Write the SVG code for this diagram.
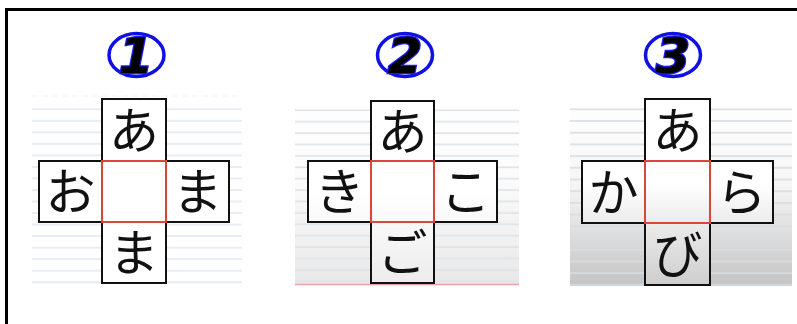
<svg xmlns="http://www.w3.org/2000/svg" width="797" height="324" viewBox="0 0 797 324">
<defs>
<linearGradient id="g2" x1="0" y1="100" x2="0" y2="284" gradientUnits="userSpaceOnUse">
<stop offset="0" stop-color="#ffffff"/><stop offset="0.45" stop-color="#fbfbfb"/><stop offset="1" stop-color="#e8e8e8"/>
</linearGradient>
<linearGradient id="g3" x1="0" y1="100" x2="0" y2="286" gradientUnits="userSpaceOnUse">
<stop offset="0" stop-color="#ffffff"/><stop offset="0.45" stop-color="#f6f6f6"/><stop offset="1" stop-color="#c4c4c4"/>
</linearGradient>
<linearGradient id="b2" x1="0" y1="99" x2="0" y2="284" gradientUnits="userSpaceOnUse">
<stop offset="0" stop-color="#ffffff"/><stop offset="0.5" stop-color="#ffffff"/><stop offset="1" stop-color="#ececec"/>
</linearGradient>
<linearGradient id="b3" x1="0" y1="99" x2="0" y2="286" gradientUnits="userSpaceOnUse">
<stop offset="0" stop-color="#ffffff"/><stop offset="0.45" stop-color="#ffffff"/><stop offset="1" stop-color="#cdcdcd"/>
</linearGradient>
<pattern id="ln1" x="0" y="103.5" width="10" height="11.53" patternUnits="userSpaceOnUse">
<rect x="0" y="5" width="10" height="1.6" fill="#e1e9f2"/>
</pattern>
<pattern id="ln2" x="0" y="104.5" width="10" height="11.4" patternUnits="userSpaceOnUse">
<rect x="0" y="5" width="10" height="1.6" fill="#dde4ea"/>
</pattern>
<pattern id="ln3" x="0" y="103.5" width="10" height="11.7" patternUnits="userSpaceOnUse">
<rect x="0" y="5" width="10" height="1.6" fill="#d6dee4"/>
</pattern>
</defs>
<style>
.box{stroke:#111;stroke-width:2}
.red{fill:none;stroke:#d9463c;stroke-width:2}
.kana{font-family:"Noto Sans CJK JP","Noto Sans CJK SC",sans-serif;font-size:50px;fill:#111;text-anchor:middle}
.ell{fill:#fff;stroke:#1010e6;stroke-width:3.5}
.num{font-family:"DejaVu Sans",sans-serif;font-weight:bold;font-style:italic;font-size:50px;fill:#000;stroke:#1a1aff;stroke-width:2.5;paint-order:stroke;text-anchor:middle}
</style>
<rect width="797" height="324" fill="#fff"/>
<g id="frame" fill="none" stroke="#000" stroke-width="3">
<path d="M6.5 324 V9.5 H797"/>
</g>
<!-- panel 1 -->
<g id="panel1">
<line x1="32" y1="96" x2="242" y2="96" stroke="#f4f4f4" stroke-width="1" stroke-dasharray="6 4"/>
<rect x="32" y="103" width="210" height="181" fill="url(#ln1)"/>
<g id="n1-top"><rect class="box" x="102" y="99" width="64" height="62" fill="#fff"/><text class="kana" x="134" y="148.5">あ</text></g>
<g id="n1-left"><rect class="box" x="39" y="161" width="63" height="61" fill="#fff"/><text class="kana" x="70.5" y="209.5">お</text></g>
<g id="n1-right"><rect class="box" x="166" y="161" width="63" height="61" fill="#fff"/><text class="kana" x="197.5" y="209.5">ま</text></g>
<g id="n1-bottom"><rect class="box" x="102" y="222" width="64" height="61" fill="#fff"/><text class="kana" x="134" y="270.5">ま</text></g>
<g id="n1-center"><rect x="102" y="161" width="64" height="61" fill="#fff"/><rect class="red" x="102" y="161" width="64" height="61"/></g>
<g id="n1-label"><ellipse class="ell" cx="136.5" cy="55" rx="27.5" ry="21.5"/><text class="num" x="136" y="73">1</text></g>
</g>
<!-- panel 2 -->
<g id="panel2">
<rect x="295" y="100" width="224" height="184" fill="url(#g2)"/>
<rect x="295" y="104" width="224" height="180" fill="url(#ln2)"/>
<line x1="295" y1="284.5" x2="519" y2="284.5" stroke="#f0a0a0" stroke-width="1.5"/>
<g id="n2-top"><rect class="box" x="371" y="101" width="63" height="60" fill="url(#b2)"/><text class="kana" x="402.5" y="149.5">あ</text></g>
<g id="n2-left"><rect class="box" x="308" y="161" width="63" height="61" fill="url(#b2)"/><text class="kana" x="339.5" y="209.5">き</text></g>
<g id="n2-right"><rect class="box" x="434" y="161" width="63" height="61" fill="url(#b2)"/><text class="kana" x="465.5" y="209.5">こ</text></g>
<g id="n2-bottom"><rect class="box" x="371" y="222" width="63" height="61" fill="url(#b2)"/><text class="kana" x="402.5" y="270.5">ご</text></g>
<g id="n2-center"><rect x="371" y="161" width="63" height="61" fill="url(#b2)"/><rect class="red" x="371" y="161" width="63" height="61"/></g>
<g id="n2-label"><ellipse class="ell" cx="405" cy="55" rx="27.5" ry="21.5"/><text class="num" x="405" y="73">2</text></g>
</g>
<!-- panel 3 -->
<g id="panel3">
<rect x="570" y="100" width="222" height="186" fill="url(#g3)"/>
<rect x="570" y="103" width="222" height="183" fill="url(#ln3)"/>
<g id="n3-top"><rect class="box" x="645" y="99" width="65" height="62" fill="url(#b3)"/><text class="kana" x="677.5" y="148.5">あ</text></g>
<g id="n3-left"><rect class="box" x="582" y="161" width="63" height="62" fill="url(#b3)"/><text class="kana" x="613.5" y="210.5">か</text></g>
<g id="n3-right"><rect class="box" x="710" y="161" width="63" height="62" fill="url(#b3)"/><text class="kana" x="741.5" y="210.5">ら</text></g>
<g id="n3-bottom"><rect class="box" x="645" y="223" width="65" height="62" fill="url(#b3)"/><text class="kana" x="677.5" y="272.5">び</text></g>
<g id="n3-center"><rect x="645" y="161" width="65" height="62" fill="url(#b3)"/><rect class="red" x="645" y="161" width="65" height="62"/></g>
<g id="n3-label"><ellipse class="ell" cx="673" cy="55" rx="27.5" ry="21.5"/><text class="num" x="673" y="73">3</text></g>
</g>
<g id="connectors"/>
</svg>
